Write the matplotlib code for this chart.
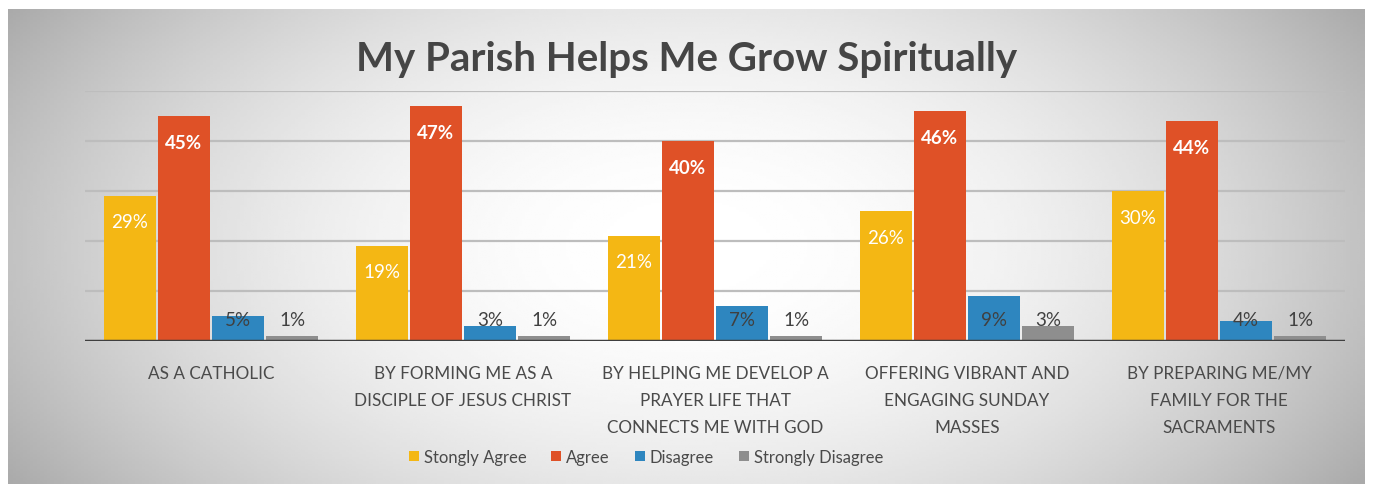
"""
My Parish Helps Me Grow Spiritually - grouped bar chart
"""

import matplotlib
matplotlib.use("Agg")
import matplotlib.pyplot as plt
import numpy as np

categories = [
    "AS A CATHOLIC",
    "BY FORMING ME AS A\nDISCIPLE OF JESUS CHRIST",
    "BY HELPING ME DEVELOP A\nPRAYER LIFE THAT\nCONNECTS ME WITH GOD",
    "OFFERING VIBRANT AND\nENGAGING SUNDAY\nMASSES",
    "BY PREPARING ME/MY\nFAMILY FOR THE\nSACRAMENTS",
]
series_names = ["Stongly Agree", "Agree", "Disagree", "Strongly Disagree"]
strongly_agree = [29, 19, 21, 26, 30]
agree = [45, 47, 40, 46, 44]
disagree = [5, 3, 7, 9, 4]
strongly_disagree = [1, 1, 1, 3, 1]

colors = ["#F4B714", "#DF5127", "#2E86BF", "#8E8E8E"]
label_colors = ["white", "white", "#404040", "#404040"]

plt.rcParams['font.family'] = ['Lato', 'DejaVu Sans']

fig = plt.figure(figsize=(13.73, 4.85), dpi=100)
fig.patch.set_facecolor("white")

# gradient panel behind the chart
bg = fig.add_axes([8 / 1373, 0, 1357 / 1373, 1 - 10 / 485], zorder=0)
gx, gy = np.meshgrid(np.linspace(-1, 1, 400), np.linspace(-1, 1, 200))
r = np.sqrt((gx / 1.0) ** 2 + (gy / 1.6) ** 2)
shade = 1.0 - 0.24 * np.clip(r, 0, 1.2) ** 2
bg.imshow(shade, cmap="gray", vmin=0, vmax=1, aspect="auto", extent=[0, 1, 0, 1])
bg.axis("off")

ax = fig.add_axes([85 / 1373, 1 - 342 / 485, 1260 / 1373, 250 / 485], zorder=1)
ax.patch.set_alpha(0)

all_series = [strongly_agree, agree, disagree, strongly_disagree]
x = np.arange(len(categories))
step = 0.215
width = 0.205
for i, (vals, name) in enumerate(zip(all_series, series_names)):
    pos = x + (i - 1.5) * step
    ax.bar(pos, vals, width, color=colors[i], label=name, zorder=3)
    for px, v in zip(pos, vals):
        ly = max(v - 5.2, 4.3)
        ax.text(px, ly, f"{v}%", ha="center", va="center", fontsize=13.5,
                color=label_colors[i], fontweight="bold" if i == 1 else "normal",
                zorder=4)

ax.set_xlim(-0.5, 4.5)
ax.set_ylim(0, 50)
ax.set_yticks([10, 20, 30, 40, 50])
ax.yaxis.grid(True, color="#BDBDBD", linewidth=1.6, zorder=0)
ax.tick_params(axis="y", length=0, labelleft=False)
ax.axhline(0, color="#3F3F3F", linewidth=2.5, zorder=5)
for s in ax.spines.values():
    s.set_visible(False)

ax.set_xticks(x)
ax.set_xticklabels(categories, fontsize=12.3, color="#4A4A4A", linespacing=1.85)
ax.tick_params(axis="x", length=0, pad=17)

fig.text(0.5, 1 - 60 / 485, "My Parish Helps Me Grow Spiritually", ha="center",
         va="center", fontsize=29, fontweight="bold", color="#454545")

leg = fig.legend(loc="center", bbox_to_anchor=(646 / 1373, 1 - 458 / 485), ncol=4,
                 frameon=False, fontsize=12, handlelength=0.6, handleheight=0.6,
                 handletextpad=0.3, columnspacing=1.5)
for t in leg.get_texts():
    t.set_color("#4A4A4A")

plt.savefig("out.png", dpi=100)
